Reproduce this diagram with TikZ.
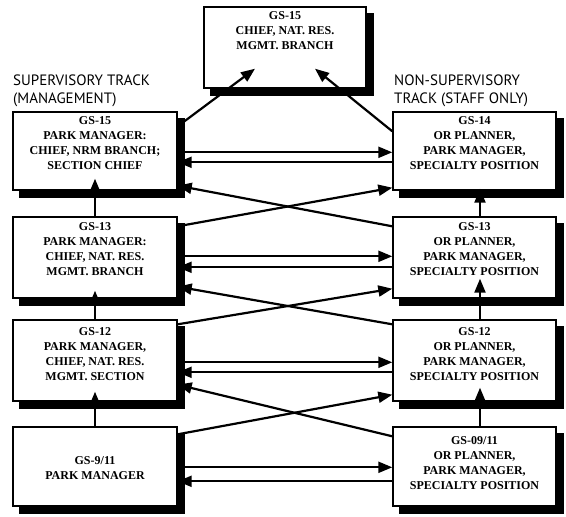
\documentclass[tikz,border=0pt]{standalone}
\usepackage{fontspec}
\setmainfont{Liberation Serif}
\newfontfamily\lblfont{PT Sans}
\usetikzlibrary{arrows.meta}
\begin{document}
\begin{tikzpicture}[x=1pt,y=1pt,
  box/.style={draw=black, line width=1.4pt, fill=white, inner sep=0pt},
  lbox/.style={box, minimum width=164pt},
  rbox/.style={box, minimum width=163pt},
  shadowline/.style={draw=black, line width=7pt, line join=miter},
  txt/.style={font=\bfseries\fontsize{12}{15}\selectfont, align=center, inner sep=0pt, anchor=north},
  lbl/.style={font=\lblfont\fontsize{15}{17.5}\selectfont, align=left, inner sep=0pt, anchor=north west},
  arr/.style={line width=2.2pt, -{Triangle[length=14pt,width=11pt]}}]
\fill[white] (0,0) rectangle (566,-517);

% boxes
\node[box, minimum width=162pt, minimum height=81pt] (T) at (285,-47.5) {};
\node[lbox, minimum height=78pt] (L1) at (95,-151) {};
\node[rbox, minimum height=78pt] (R1) at (474.5,-151) {};
\node[lbox, minimum height=81pt] (L2) at (95,-257.5) {};
\node[rbox, minimum height=81pt] (R2) at (474.5,-257.5) {};
\node[lbox, minimum height=81pt] (L3) at (95,-360.5) {};
\node[rbox, minimum height=81pt] (R3) at (474.5,-360.5) {};
\node[lbox, minimum height=79pt] (L4) at (95,-466.5) {};
\node[rbox, minimum height=79pt] (R4) at (474.5,-466.5) {};

% shadows as thick strokes along right and bottom sides
\foreach \bx in {T,L1,R1,L2,R2,L3,R3,L4,R4}{
  \draw[shadowline] ([xshift=7pt,yshift=-3.5pt]\bx.south west) -- ([xshift=3.5pt,yshift=-3.5pt]\bx.south east) -- ([xshift=3.5pt,yshift=-7pt]\bx.north east);
}

% texts
\node[txt, yshift=-5.5pt] (Tt) at (T.north) {GS-15\\CHIEF, NAT. RES.\\MGMT. BRANCH};
\node[txt, yshift=-5.5pt] (L1t) at (L1.north) {GS-15\\PARK MANAGER:\\CHIEF, NRM BRANCH;\\SECTION CHIEF};
\node[txt, yshift=-5.5pt] (R1t) at (R1.north) {GS-14\\OR PLANNER,\\PARK MANAGER,\\SPECIALTY POSITION};
\node[txt, yshift=-6.5pt] (L2t) at (L2.north) {GS-13\\PARK MANAGER:\\CHIEF, NAT. RES.\\MGMT. BRANCH};
\node[txt, yshift=-6.5pt] (R2t) at (R2.north) {GS-13\\OR PLANNER,\\PARK MANAGER,\\SPECIALTY POSITION};
\node[txt, yshift=-8.5pt] (L3t) at (L3.north) {GS-12\\PARK MANAGER,\\CHIEF, NAT. RES.\\MGMT. SECTION};
\node[txt, yshift=-8.5pt] (R3t) at (R3.north) {GS-12\\OR PLANNER,\\PARK MANAGER,\\SPECIALTY POSITION};
\node[txt, anchor=center, yshift=-2pt] (L4t) at (L4.center) {GS-9/11\\PARK MANAGER};
\node[txt, yshift=-10.5pt] (R4t) at (R4.north) {GS-09/11\\OR PLANNER,\\PARK MANAGER,\\SPECIALTY POSITION};

% track labels
\node[lbl] (SL) at (13,-75) {SUPERVISORY TRACK\\(MANAGEMENT)};
\node[lbl] (SR) at (394,-75) {NON-SUPERVISORY\\TRACK (STAFF ONLY)};

% to top box
\draw[arr] ([yshift=-15pt]L1.north east) -- ([xshift=-30pt,yshift=20pt]T.south);
\draw[arr] ([yshift=-20pt]R1.north west) -- ([xshift=30pt,yshift=20pt]T.south);

% horizontal pairs
\draw[arr] ([yshift=-41pt]L1.north east) -- ([yshift=-41pt]R1.north west);
\draw[arr] ([yshift=-51pt]R1.north west) -- ([yshift=-51pt]L1.north east);
\draw[arr] ([yshift=-40pt]L2.north east) -- ([yshift=-40pt]R2.north west);
\draw[arr] ([yshift=-51pt]R2.north west) -- ([yshift=-51pt]L2.north east);
\draw[arr] ([yshift=-43pt]L3.north east) -- ([yshift=-43pt]R3.north west);
\draw[arr] ([yshift=-53pt]R3.north west) -- ([yshift=-53pt]L3.north east);
\draw[arr] ([yshift=-41pt]L4.north east) -- ([yshift=-41pt]R4.north west);
\draw[arr] ([yshift=-55pt]R4.north west) -- ([yshift=-55pt]L4.north east);

% crossings
\draw[arr] ([yshift=-10pt]L2.north east) -- ([yshift=3pt]R1.south west);
\draw[arr] ([yshift=-10pt]R2.north west) -- ([yshift=5pt]L1.south east);
\draw[arr] ([yshift=-5pt]L3.north east) -- ([yshift=10pt]R2.south west);
\draw[arr] ([yshift=-5pt]R3.north west) -- ([yshift=12pt]L2.south east);
\draw[arr] ([yshift=-8pt]L4.north east) -- ([yshift=7pt]R3.south west);
\draw[arr] ([yshift=-10pt]R4.north west) -- ([yshift=17pt]L3.south east);

% verticals
\draw[arr] (L2.north) -- ([yshift=12pt]L1.south);
\draw[arr] (L3.north) -- ([yshift=8pt]L2.south);
\draw[arr] (L4.north) -- ([yshift=10pt]L3.south);
\draw[arr] ([xshift=5.5pt]R2.north) -- ([xshift=5.5pt,yshift=2pt]R1.south);
\draw[arr] ([xshift=5.5pt]R3.north) -- ([xshift=5.5pt,yshift=20pt]R2.south);
\draw[arr] ([xshift=5.5pt]R4.north) -- ([xshift=5.5pt,yshift=14pt]R3.south);
\end{tikzpicture}
\end{document}
